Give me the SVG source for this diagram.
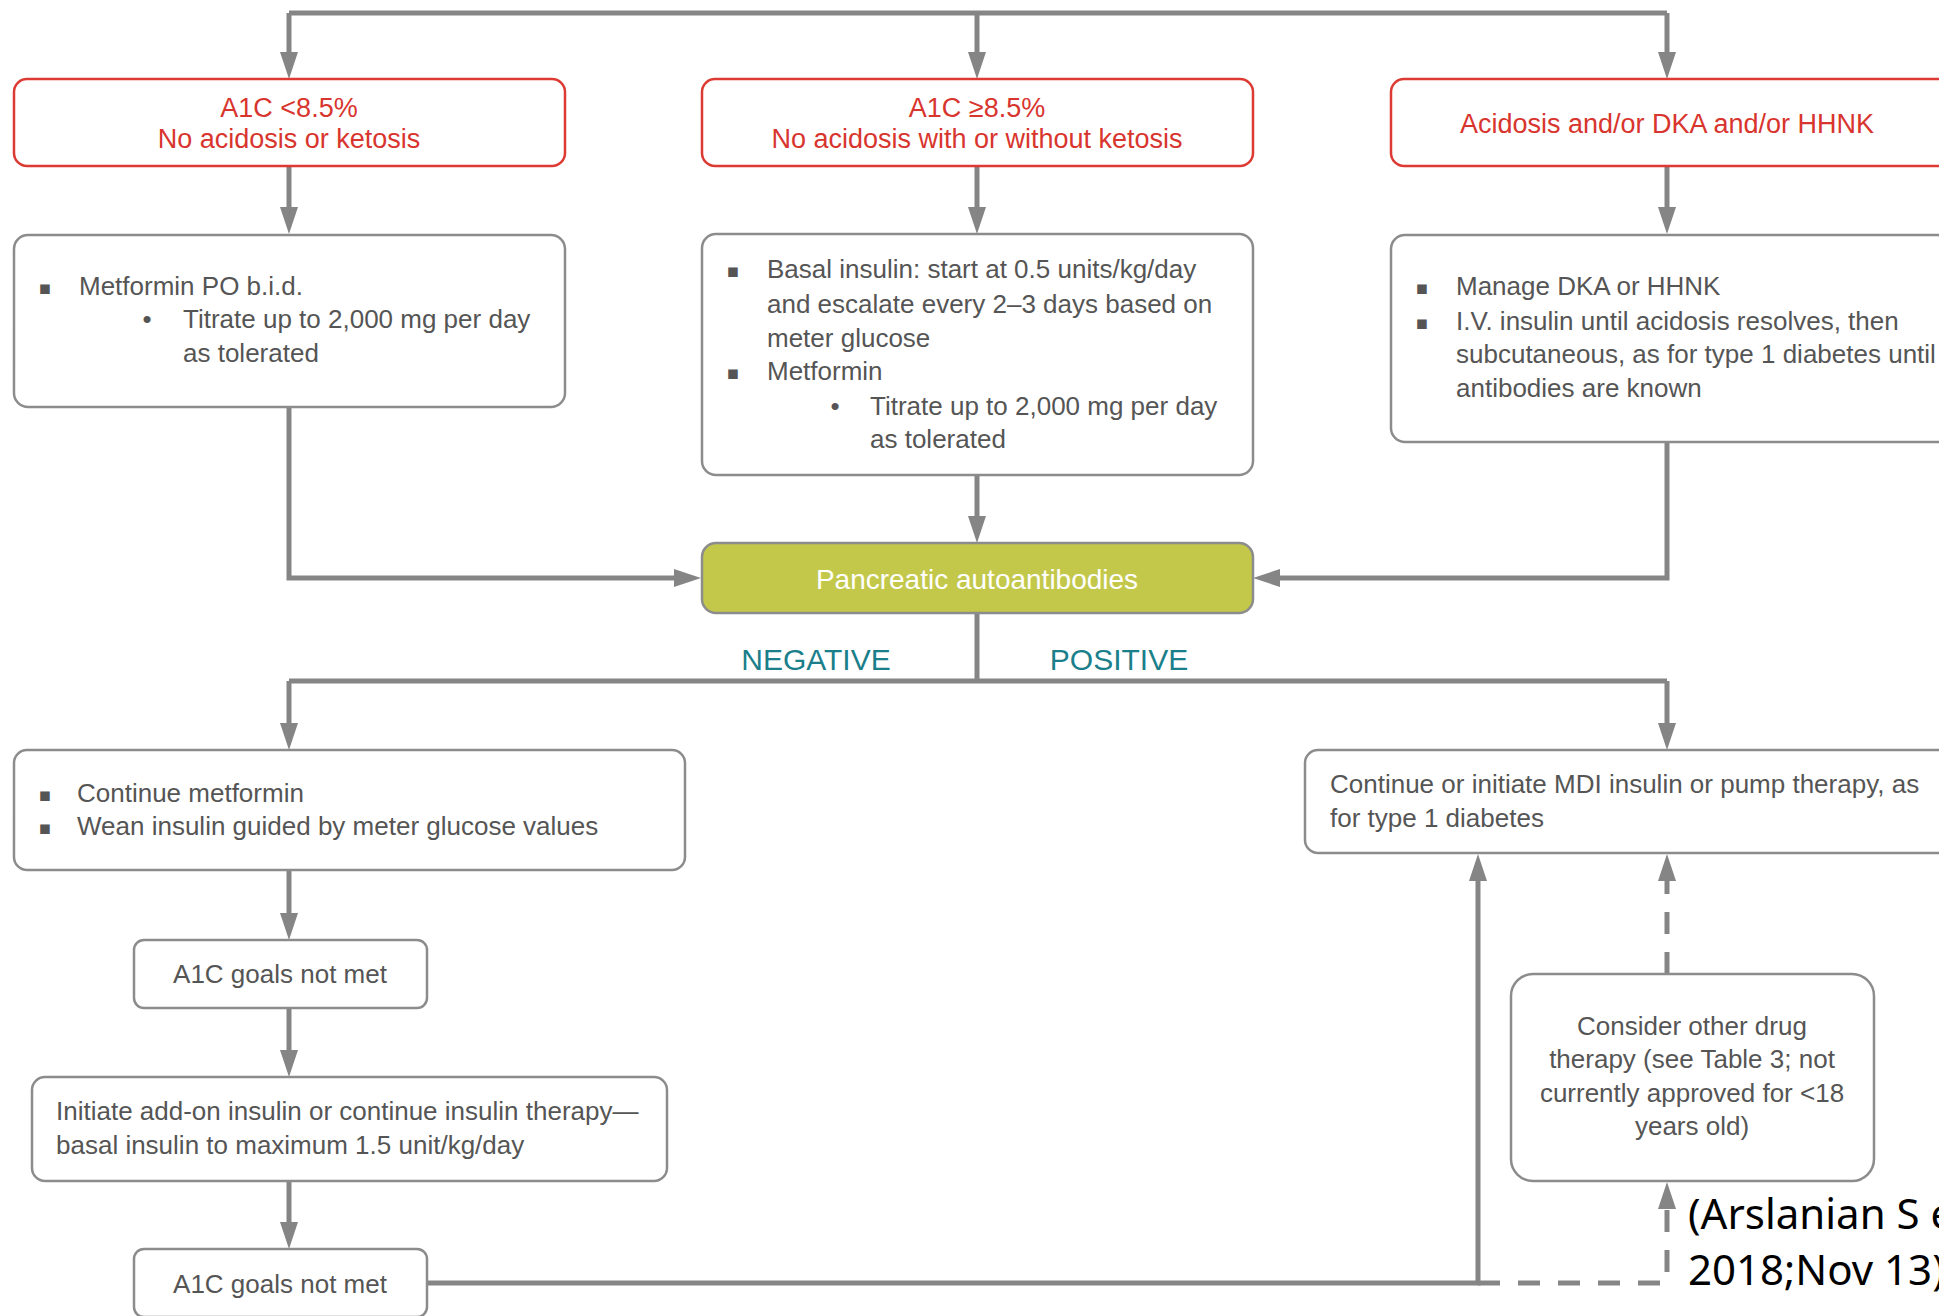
<svg xmlns="http://www.w3.org/2000/svg" width="1939" height="1316" viewBox="0 0 1939 1316">
<style>
.t{font-family:"Liberation Sans",Arial,sans-serif;font-size:26px;fill:#555555}
.c{text-anchor:middle}
.r{font-family:"Liberation Sans",Arial,sans-serif;font-size:27px;fill:#d8352e;text-anchor:middle}
.lbl{font-family:"Liberation Sans",Arial,sans-serif;font-size:30px;fill:#1b7f8b;text-anchor:middle}
.sq{font-family:"DejaVu Sans",sans-serif;font-size:19px;fill:#555555;text-anchor:middle}
.dot{font-family:"Liberation Sans",Arial,sans-serif;font-size:26px;fill:#555555;text-anchor:middle}
.box{fill:#ffffff;stroke:#8c8c8c;stroke-width:2.5}
.rbox{fill:#ffffff;stroke:#dc3a33;stroke-width:2.5}
.pbox{fill:#c3c84b;stroke:#8c8c8c;stroke-width:2.5}
.ln{fill:none;stroke:#858585;stroke-width:5;stroke-linejoin:miter}
.arr{marker-end:url(#ah)}
.dash{stroke-dasharray:22 18}
.cite{font-family:"Noto Sans","Open Sans",sans-serif;font-size:42px;fill:#000000}
</style>
<defs>
<marker id="ah" markerUnits="userSpaceOnUse" viewBox="0 0 27 18" markerWidth="27" markerHeight="18" refX="15" refY="9" orient="auto">
<path d="M0,0 L27,9 L0,18 Z" fill="#858585"/>
</marker>
</defs>

<g id="connectors">
<path class="ln" d="M289,13 H1667"/>
<path class="ln arr" d="M289,13 V67"/>
<path class="ln arr" d="M977,13 V67"/>
<path class="ln arr" d="M1667,13 V67"/>
<path class="ln arr" d="M289,166 V222"/>
<path class="ln arr" d="M977,166 V222"/>
<path class="ln arr" d="M1667,166 V222"/>
<path class="ln arr" d="M289,407 V578 H689"/>
<path class="ln arr" d="M977,475 V531"/>
<path class="ln arr" d="M1667,442 V578 H1265"/>
<path class="ln" d="M977,613 V681"/>
<path class="ln" d="M289,681 H1667"/>
<path class="ln arr" d="M289,681 V738"/>
<path class="ln arr" d="M1667,681 V738"/>
<path class="ln arr" d="M289,870 V928"/>
<path class="ln arr" d="M289,1008 V1065"/>
<path class="ln arr" d="M289,1181 V1237"/>
<path class="ln arr" d="M427,1283 H1478 V866"/>
<path class="ln arr dash" d="M1478,1283 H1667 V1194"/>
<path class="ln arr dash" d="M1667,974 V866"/>
</g>

<g id="n_a1c_low">
<rect class="rbox" x="14" y="79" width="551" height="87" rx="13"/>
<text class="r" x="289" y="117">A1C &lt;8.5%</text>
<text class="r" x="289" y="148">No acidosis or ketosis</text>
</g>

<g id="n_a1c_high">
<rect class="rbox" x="702" y="79" width="551" height="87" rx="13"/>
<text class="r" x="977" y="117">A1C ≥8.5%</text>
<text class="r" x="977" y="148">No acidosis with or without ketosis</text>
</g>

<g id="n_acidosis">
<rect class="rbox" x="1391" y="79" width="560" height="87" rx="13"/>
<text class="r" x="1667" y="133">Acidosis and/or DKA and/or HHNK</text>
</g>

<g id="n_metformin">
<rect class="box" x="14" y="235" width="551" height="172" rx="14"/>
<text class="sq" x="45" y="294">▪</text>
<text class="t" x="79" y="295">Metformin PO b.i.d.</text>
<text class="dot" x="147" y="328">•</text>
<text class="t" x="183" y="328">Titrate up to 2,000 mg per day</text>
<text class="t" x="183" y="362">as tolerated</text>
</g>

<g id="n_basal">
<rect class="box" x="702" y="234" width="551" height="241" rx="14"/>
<text class="sq" x="733" y="277">▪</text>
<text class="t" x="767" y="278">Basal insulin: start at 0.5 units/kg/day</text>
<text class="t" x="767" y="313">and escalate every 2–3 days based on</text>
<text class="t" x="767" y="347">meter glucose</text>
<text class="sq" x="733" y="379">▪</text>
<text class="t" x="767" y="380">Metformin</text>
<text class="dot" x="835" y="415">•</text>
<text class="t" x="870" y="415">Titrate up to 2,000 mg per day</text>
<text class="t" x="870" y="448">as tolerated</text>
</g>

<g id="n_dka">
<rect class="box" x="1391" y="235" width="560" height="207" rx="14"/>
<text class="sq" x="1422" y="294">▪</text>
<text class="t" x="1456" y="295">Manage DKA or HHNK</text>
<text class="sq" x="1422" y="329">▪</text>
<text class="t" x="1456" y="330">I.V. insulin until acidosis resolves, then</text>
<text class="t" x="1456" y="363">subcutaneous, as for type 1 diabetes until</text>
<text class="t" x="1456" y="397">antibodies are known</text>
</g>

<g id="n_pancreatic">
<rect class="pbox" x="702" y="543" width="551" height="70" rx="14"/>
<text x="977" y="589" style="font-family:'Liberation Sans',Arial,sans-serif;font-size:28px;fill:#ffffff;text-anchor:middle">Pancreatic autoantibodies</text>
</g>

<g id="labels">
<text class="lbl" x="816" y="670">NEGATIVE</text>
<text class="lbl" x="1119" y="670">POSITIVE</text>
</g>

<g id="n_continue">
<rect class="box" x="14" y="750" width="671" height="120" rx="13"/>
<text class="sq" x="45" y="801">▪</text>
<text class="t" x="77" y="802">Continue metformin</text>
<text class="sq" x="45" y="834">▪</text>
<text class="t" x="77" y="835">Wean insulin guided by meter glucose values</text>
</g>

<g id="n_mdi">
<rect class="box" x="1305" y="750" width="650" height="103" rx="13"/>
<text class="t" x="1330" y="793">Continue or initiate MDI insulin or pump therapy, as</text>
<text class="t" x="1330" y="827">for type 1 diabetes</text>
</g>

<g id="n_goals1">
<rect class="box" x="134" y="940" width="293" height="68" rx="10"/>
<text class="t c" x="280" y="983">A1C goals not met</text>
</g>

<g id="n_initiate">
<rect class="box" x="32" y="1077" width="635" height="104" rx="13"/>
<text class="t" x="56" y="1120">Initiate add-on insulin or continue insulin therapy—</text>
<text class="t" x="56" y="1154">basal insulin to maximum 1.5 unit/kg/day</text>
</g>

<g id="n_goals2">
<rect class="box" x="134" y="1249" width="293" height="68" rx="10"/>
<text class="t c" x="280" y="1293">A1C goals not met</text>
</g>

<g id="n_consider">
<rect class="box" x="1511" y="974" width="363" height="207" rx="22"/>
<text class="t c" x="1692" y="1035">Consider other drug</text>
<text class="t c" x="1692" y="1068">therapy (see Table 3; not</text>
<text class="t c" x="1692" y="1102">currently approved for &lt;18</text>
<text class="t c" x="1692" y="1135">years old)</text>
</g>

<g id="citation">
<text class="cite" x="1688" y="1229">(Arslanian S e</text>
<text class="cite" x="1688" y="1285">2018;Nov 13)</text>
</g>
</svg>
